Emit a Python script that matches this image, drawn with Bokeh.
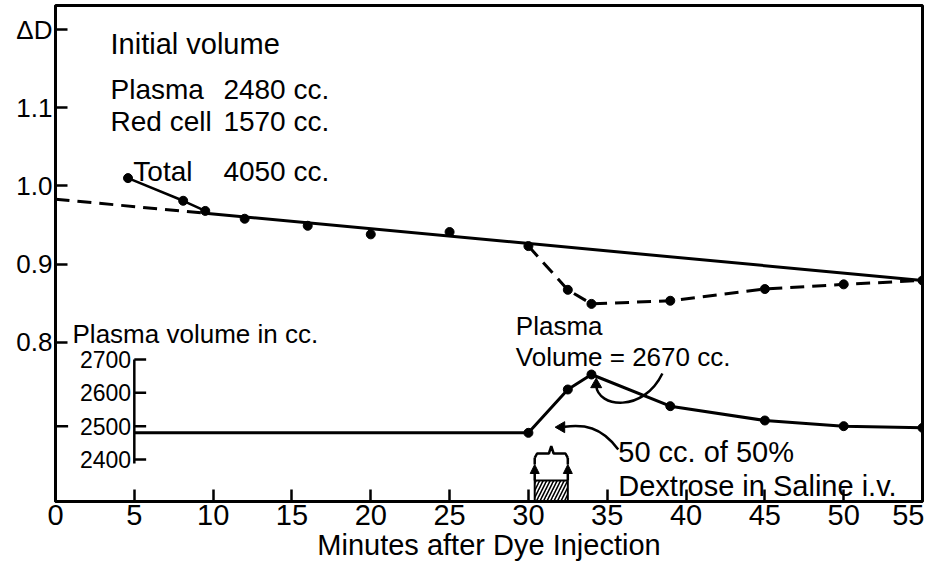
import numpy as np
from bokeh.plotting import figure
from bokeh.models import Range1d, FixedTicker, Arrow, NormalHead
from bokeh.core.properties import value
from bokeh.embed import file_html
from bokeh.resources import INLINE

# ---------------- data ----------------
minutes_obs = [4.6, 8.1, 9.5, 12, 16, 20, 25, 30, 32.5, 34, 39, 45, 50, 55]
delta_d_obs = [1.010, 0.981, 0.968, 0.958, 0.949, 0.938, 0.941, 0.923,
               0.867, 0.849, 0.853, 0.868, 0.874, 0.879]
fit_minutes = [0, 55]
fit_delta_d = [0.983, 0.879]
fit_dash_end = 9.5          # regression line drawn dashed before this minute
dip_start_index = 7         # observed points joined by dashes from here on
early_curve_count = 3       # first observed points joined by a solid curve

plasma_minutes = [5, 30, 32.5, 34, 39, 45, 50, 55]
plasma_cc = [2480, 2480, 2610, 2655, 2560, 2517, 2500, 2495]

x_ticks = [0, 5, 10, 15, 20, 25, 30, 35, 40, 45, 50, 55]
y_ticks = [0.8, 0.9, 1.0, 1.1, 1.2]
y_tick_labels = ["0.8", "0.9", "1.0", "1.1", "ΔD"]
plasma_ticks = [2400, 2500, 2600, 2700]
plasma_axis_minute = 5

injection_start, injection_end = 30.4, 32.5

FONT_NAME = "Liberation Sans"
FONT = value(FONT_NAME)

# ---------------- figure ----------------
p = figure(width=924, height=570, output_backend="svg", toolbar_location=None,
           x_range=Range1d(0, 55), y_range=Range1d(0.596, 1.231),
           min_border_left=55, min_border_right=2, min_border_top=5,
           min_border_bottom=69, background_fill_color="white",
           border_fill_color="white")
p.extra_y_ranges = {"plasma": Range1d(2274, 3762)}

p.xgrid.visible = False
p.ygrid.visible = False
p.outline_line_color = "black"
p.outline_line_width = 3
p.outline_line_alpha = 1.0

# x axis
xa = p.xaxis[0]
xa.ticker = FixedTicker(ticks=x_ticks)
xa.major_tick_in = 12
xa.major_tick_out = 0
xa.minor_tick_line_color = None
xa.axis_line_width = 3
xa.major_tick_line_width = 2.5
xa.major_label_text_font = FONT_NAME
xa.major_label_text_font_size = "29px"
xa.major_label_text_color = "black"
xa.major_label_standoff = 3
xa.axis_label = "Minutes after Dye Injection"
xa.axis_label_text_font = FONT_NAME
xa.axis_label_text_font_size = "29px"
xa.axis_label_text_font_style = "normal"
xa.axis_label_text_color = "black"
xa.axis_label_standoff = 1

# y axis
ya = p.yaxis[0]
ya.ticker = FixedTicker(ticks=y_ticks)
ya.major_label_overrides = dict(zip(y_ticks, y_tick_labels))
ya.major_tick_in = 12
ya.major_tick_out = 0
ya.minor_tick_line_color = None
ya.axis_line_width = 3
ya.major_tick_line_width = 2.5
ya.major_label_text_font = FONT_NAME
ya.major_label_text_font_size = "26px"
ya.major_label_text_color = "black"
ya.major_label_standoff = 3

# ---------------- Delta D curves ----------------
fit_break = float(np.interp(fit_dash_end, fit_minutes, fit_delta_d))
p.line([fit_minutes[0], fit_dash_end], [fit_delta_d[0], fit_break],
       line_color="black", line_width=3, line_dash="14 8")
p.line([fit_dash_end, fit_minutes[1]], [fit_break, fit_delta_d[1]],
       line_color="black", line_width=3)
p.line(minutes_obs[:early_curve_count], delta_d_obs[:early_curve_count],
       line_color="black", line_width=2.5)
p.line(minutes_obs[dip_start_index:], delta_d_obs[dip_start_index:],
       line_color="black", line_width=3, line_dash="14 8")
p.scatter(minutes_obs, delta_d_obs, size=9, color="black")

# ---------------- plasma volume axis (inner) ----------------
n = len(plasma_ticks)
p.segment(x0=[plasma_axis_minute], y0=[min(plasma_ticks) - 12],
          x1=[plasma_axis_minute], y1=[max(plasma_ticks)],
          y_range_name="plasma", line_color="black", line_width=2.5)
p.segment(x0=[plasma_axis_minute] * n, y0=plasma_ticks,
          x1=[plasma_axis_minute + 0.75] * n, y1=plasma_ticks,
          y_range_name="plasma", line_color="black", line_width=2.5)
p.text(x=[plasma_axis_minute - 0.2] * n, y=plasma_ticks,
       text=[str(t) for t in plasma_ticks], y_range_name="plasma",
       text_align="right", text_baseline="middle", text_font=FONT,
       text_font_size="23px", text_color="black")
# short mark on the main axis at 2500
p.segment(x0=[0], y0=[2500], x1=[0.8], y1=[2500], y_range_name="plasma",
          line_color="black", line_width=2.5)

# plasma volume curve
p.line(plasma_minutes, plasma_cc, y_range_name="plasma",
       line_color="black", line_width=3)
p.scatter(plasma_minutes[1:], plasma_cc[1:], y_range_name="plasma",
          size=9, color="black")

# ---------------- injection marker ----------------
p.quad(left=[injection_start], right=[injection_end], bottom=[2274], top=[2337],
       y_range_name="plasma", fill_color=None, line_color="black",
       line_width=2, hatch_pattern="/", hatch_color="black",
       hatch_scale=7, hatch_weight=1.6)
for xm in (injection_start, injection_end):
    p.add_layout(Arrow(x_start=xm, y_start=2337, x_end=xm, y_end=2385,
                       y_range_name="plasma", line_width=2.5,
                       end=NormalHead(size=9, fill_color="black",
                                      line_color="black")))
    p.segment(x0=[xm], y0=[2385], x1=[xm], y1=[2405], y_range_name="plasma",
              line_color="black", line_width=2.5)
mid = (injection_start + injection_end) / 2
brace_x = [injection_start, injection_start + 0.15, mid - 0.15, mid,
           mid + 0.15, injection_end - 0.15, injection_end]
brace_y = [2405, 2418, 2418, 2440, 2418, 2418, 2405]
p.line(brace_x, brace_y, y_range_name="plasma", line_color="black",
       line_width=2.5)

# ---------------- annotation arrows ----------------
p.bezier(x0=[38.5], y0=[2658], x1=[34.3], y1=[2622],
         cx0=[37.3], cy0=[2540], cx1=[34.4], cy1=[2555],
         y_range_name="plasma", line_color="black", line_width=2.5)
p.scatter([34.3], [2625], y_range_name="plasma", marker="triangle",
          size=11, color="black")
p.bezier(x0=[35.7], y0=[2430], x1=[32.3], y1=[2498],
         cx0=[34.6], cy0=[2500], cx1=[33.5], cy1=[2505],
         y_range_name="plasma", line_color="black", line_width=2.5)
p.scatter([32.1], [2497], y_range_name="plasma", marker="triangle",
          angle=np.pi / 2, size=11, color="black")

# ---------------- texts ----------------
def txt(x, y, s, size="26px", align="left", rng="default"):
    p.text(x=[x], y=[y], text=[s], text_font=FONT, text_font_size=size,
           text_align=align, text_baseline="middle", text_color="black",
           y_range_name=rng)

txt(3.49, 1.182, "Initial volume", "29px")
txt(3.49, 1.124, "Plasma", "28px")
txt(10.65, 1.124, "2480 cc.", "28px")
txt(3.49, 1.083, "Red cell", "28px")
txt(10.65, 1.083, "1570 cc.", "28px")
txt(4.94, 1.018, "Total", "28px")
txt(10.65, 1.018, "4050 cc.", "28px")
txt(1.08, 0.810, "Plasma volume in cc.")
txt(29.2, 0.8205, "Plasma")
txt(29.2, 0.781, "Volume = 2670 cc.")
txt(35.7, 0.659, "50 cc. of 50%", "29px")
txt(35.7, 0.616, "Dextrose in Saline i.v.", "29px")

open("out.html", "w").write(file_html(p, INLINE))
